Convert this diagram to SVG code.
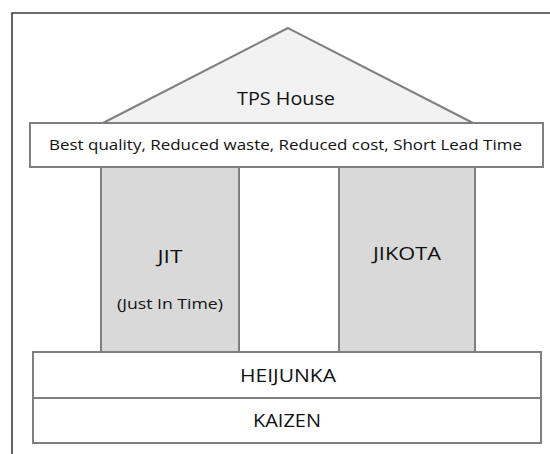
<svg xmlns="http://www.w3.org/2000/svg" width="550" height="454" viewBox="0 0 550 454">
<style>
  .shape { stroke: #7f7f7f; stroke-width: 2; }
  .white { fill: #ffffff; }
  .roof { fill: #f2f2f2; }
  .pillar { fill: #d9d9d9; }
  text { font-family: "Open Sans", "Noto Sans", "Liberation Sans", sans-serif; fill: #111111; text-anchor: middle; }
  .big { font-size: 19px; }
  .small { font-size: 15px; }
</style>
<rect x="0" y="0" width="550" height="454" fill="#ffffff"/>
<g id="frame">
  <polyline points="12,454 12,13 550,13" fill="none" stroke="#3a3a3a" stroke-width="1.6"/>
</g>
<g id="roof">
  <polygon class="shape roof" points="288,28 101,124 475,124"/>
  <text class="big" x="286" y="105" textLength="98" lengthAdjust="spacingAndGlyphs">TPS House</text>
</g>
<g id="goals">
  <rect class="shape white" x="30" y="123" width="513" height="44"/>
  <text class="small" x="285.5" y="150" textLength="473" lengthAdjust="spacingAndGlyphs">Best quality, Reduced waste, Reduced cost, Short Lead Time</text>
</g>
<g id="jit">
  <rect class="shape pillar" x="101" y="167" width="138" height="185"/>
  <text class="big" x="170" y="263" textLength="25" lengthAdjust="spacingAndGlyphs">JIT</text>
  <text class="small" x="170" y="309" textLength="106" lengthAdjust="spacingAndGlyphs">(Just In Time)</text>
</g>
<g id="jikota">
  <rect class="shape pillar" x="339" y="167" width="136" height="185"/>
  <text class="big" x="407" y="260" textLength="68" lengthAdjust="spacingAndGlyphs">JIKOTA</text>
</g>
<g id="heijunka">
  <rect class="shape white" x="33" y="352" width="508" height="46"/>
  <text class="big" x="288" y="382" textLength="96" lengthAdjust="spacingAndGlyphs">HEIJUNKA</text>
</g>
<g id="kaizen">
  <rect class="shape white" x="33" y="398" width="508" height="45"/>
  <text class="big" x="287" y="427" textLength="68" lengthAdjust="spacingAndGlyphs">KAIZEN</text>
</g>
<g id="connectors"></g>
</svg>
